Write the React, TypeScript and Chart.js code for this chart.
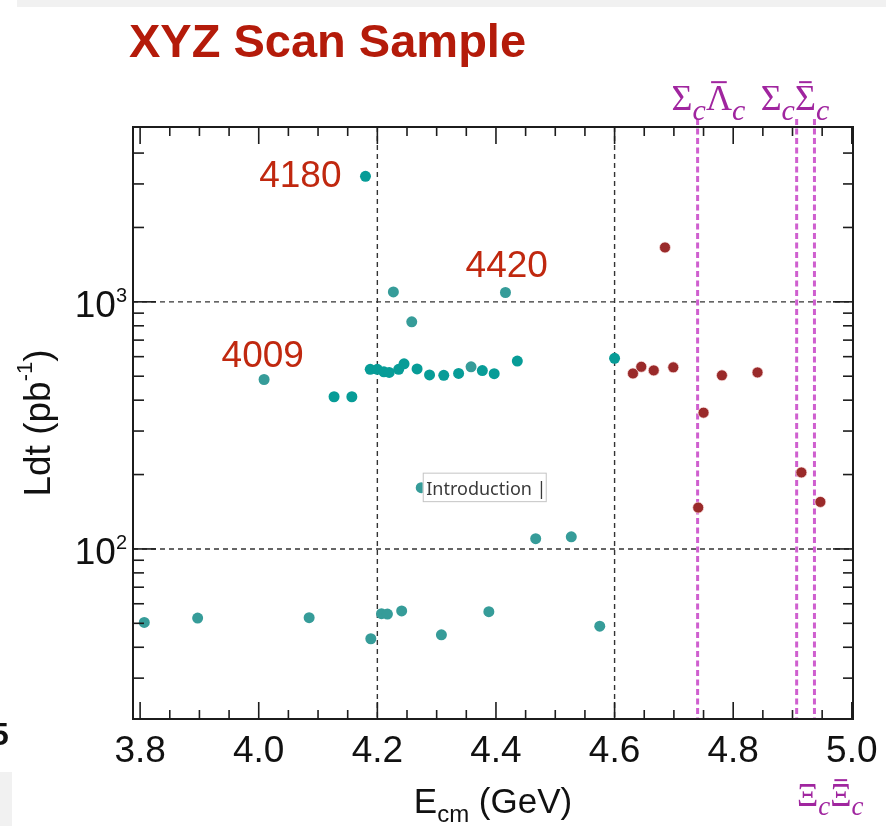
import React, { useEffect, useRef } from "react";
import { Chart, registerables } from "chart.js";

Chart.register(...registerables);

// ---------------- data ----------------
const xRange = [3.788, 5.002];
const yRange = [20.5, 5100];

const xTickLabels = [3.8, 4.0, 4.2, 4.4, 4.6, 4.8, 5.0];
const yTickLabels = [100, 1000];
const yMinorTicks = [30, 40, 50, 60, 70, 80, 90, 200, 300, 400, 500, 600, 700, 800, 900, 2000, 3000, 4000];
const xDashedGrid = [4.2, 4.6];
const yDashedGrid = [100, 1000];

// XYZ scan points (bright teal)
const tealEnergy = [4.18, 4.127, 4.157, 4.188, 4.2, 4.211, 4.22, 4.236, 4.245, 4.267, 4.288, 4.312, 4.337, 4.377, 4.397, 4.436, 4.6];
const tealLumi = [3220, 413, 413, 533, 533, 521, 518, 533, 561, 535, 506, 504, 513, 527, 512, 576, 591];

// XYZ scan points (muted teal)
const mutedEnergy = [4.009, 4.227, 4.258, 4.416, 4.358, 4.274, 4.467, 4.527, 3.807, 3.897, 4.085, 4.189, 4.207, 4.217, 4.241, 4.308, 4.388, 4.575];
const mutedLumi = [485, 1097, 830, 1091, 546, 177, 110, 112, 50.4, 52.5, 52.7, 43.3, 54.7, 54.5, 56.1, 44.9, 55.7, 48.7];

// high-energy points (dark red)
const redEnergy = [4.631, 4.645, 4.666, 4.685, 4.699, 4.741, 4.75, 4.781, 4.841, 4.915, 4.947];
const redLumi = [513, 546, 528, 1660, 543, 147, 356, 504, 518, 204, 155];

// annotated samples
const noteText = ["4180", "4420", "4009"];
const noteEnergy = [4.18, 4.416, 4.009];
const noteLumi = [3220, 1091, 485];

// thresholds
const thresholdEnergy = [4.74, 4.907, 4.937];

// text box
const boxText = "Introduction |";
const boxEnergy = 4.274;
const boxLumi = 177;

const titleText = "XYZ Scan Sample";

// ---------------- styles / layout ----------------
const SANS = '"Liberation Sans", Arial, Helvetica, sans-serif';
const SERIF = '"Liberation Serif", "DejaVu Serif", serif';
const TITLE_RED = "#b41b0a";
const NOTE_RED = "#c0280f";
const PURPLE = "#a0259f";
// note offsets: [dx, dy, align]
const noteLayout: [number, number, CanvasTextAlign][] = [
  [-24, 11, "right"],
  [1.3, -15.6, "center"],
  [-1.3, -12.6, "center"],
];
// threshold label layout: [dxFromLine, baseline, size, subSize, parts]
type Part = { t: string; sub?: boolean; bar?: boolean };
const thresholdLabels: { dx: number; base: number; size: number; sub: number; top: boolean; parts: Part[] }[] = [
  { dx: -26, base: 110, size: 36, sub: 30, top: true, parts: [{ t: "Σ" }, { t: "c", sub: true }, { t: "Λ", bar: true }, { t: "c", sub: true }] },
  { dx: -36, base: 110, size: 36, sub: 30, top: true, parts: [{ t: "Σ" }, { t: "c", sub: true }, { t: "Σ", bar: true }, { t: "c", sub: true }] },
  { dx: -17.5, base: 806, size: 33, sub: 27, top: false, parts: [{ t: "Ξ" }, { t: "c", sub: true }, { t: "Ξ", bar: true }, { t: "c", sub: true }] },
];

function line(ctx: CanvasRenderingContext2D, x1: number, y1: number, x2: number, y2: number) {
  ctx.beginPath();
  ctx.moveTo(x1, y1);
  ctx.lineTo(x2, y2);
  ctx.stroke();
}

const decorPlugin = {
  id: "decor",
  beforeDatasetsDraw(chart: any) {
    const { ctx, chartArea: a, scales } = chart;
    const x = scales.x, y = scales.y;
    ctx.save();
    // page artefacts
    ctx.fillStyle = "#f1f1f1";
    ctx.fillRect(17, 0, 869, 7);
    ctx.fillRect(0, 772, 12, 54);
    ctx.fillStyle = "#111";
    ctx.font = `bold 32px ${SANS}`;
    ctx.textAlign = "left";
    ctx.textBaseline = "alphabetic";
    ctx.fillText("5", -9, 745);

    // black dashed grid
    ctx.strokeStyle = "#333";
    ctx.lineWidth = 1.4;
    ctx.setLineDash([5, 4]);
    for (const v of xDashedGrid) {
      const px = x.getPixelForValue(v);
      line(ctx, px, a.top, px, a.bottom);
    }
    for (const v of yDashedGrid) {
      const py = y.getPixelForValue(v);
      line(ctx, a.left, py, a.right, py);
    }
    // thresholds
    ctx.strokeStyle = "#cf5fcf";
    ctx.lineWidth = 3;
    ctx.setLineDash([6, 3.5]);
    for (const v of thresholdEnergy) {
      const px = x.getPixelForValue(v);
      line(ctx, px, a.top - 8, px, a.bottom);
    }
    ctx.restore();
  },
  afterDatasetsDraw(chart: any) {
    const { ctx, chartArea: a, scales } = chart;
    const x = scales.x, y = scales.y;
    ctx.save();
    ctx.setLineDash([]);

    // frame
    ctx.strokeStyle = "#1c1c1c";
    ctx.lineWidth = 2;
    ctx.strokeRect(a.left, a.top, a.right - a.left, a.bottom - a.top);

    // x ticks
    ctx.lineWidth = 1.6;
    for (let k = 76; k <= 100; k++) {
      const v = k * 0.05;
      const px = x.getPixelForValue(v);
      const major = k % 4 === 0;
      const len = major ? 17 : 9;
      line(ctx, px, a.bottom, px, a.bottom - len);
      line(ctx, px, a.top, px, a.top + len);
    }
    // y ticks
    for (const v of yMinorTicks) {
      const py = y.getPixelForValue(v);
      line(ctx, a.left, py, a.left + 11, py);
      line(ctx, a.right, py, a.right - 10, py);
    }
    for (const v of yTickLabels) {
      const py = y.getPixelForValue(v);
      line(ctx, a.left, py, a.left + 23, py);
      line(ctx, a.right, py, a.right - 20, py);
    }

    // x tick labels
    ctx.fillStyle = "#111";
    ctx.font = `37px ${SANS}`;
    ctx.textAlign = "center";
    ctx.textBaseline = "alphabetic";
    for (const v of xTickLabels) {
      ctx.fillText(v.toFixed(1), x.getPixelForValue(v), 761.5);
    }
    // y tick labels 10^n
    for (const v of yTickLabels) {
      const py = y.getPixelForValue(v);
      const exp = String(Math.round(Math.log10(v)));
      ctx.textAlign = "right";
      ctx.font = `20px ${SANS}`;
      const sw = ctx.measureText(exp).width;
      ctx.fillText(exp, 127, py);
      ctx.font = `37px ${SANS}`;
      ctx.fillText("10", 127 - sw, py + 15);
    }

    // x title  E_cm (GeV)
    {
      ctx.textAlign = "left";
      const main = `35px ${SANS}`, sub = `24px ${SANS}`;
      ctx.font = main;
      const w1 = ctx.measureText("E").width;
      const w3 = ctx.measureText(" (GeV)").width;
      ctx.font = sub;
      const w2 = ctx.measureText("cm").width;
      const total = w1 + w2 + w3;
      let cx = (a.left + a.right) / 2 - total / 2;
      ctx.font = main;
      ctx.fillText("E", cx, 813);
      cx += w1;
      ctx.font = sub;
      ctx.fillText("cm", cx, 822);
      cx += w2;
      ctx.font = main;
      ctx.fillText(" (GeV)", cx, 813);
    }
    // y title  Ldt (pb^-1)
    {
      ctx.save();
      ctx.translate(50, (a.top + a.bottom) / 2);
      ctx.rotate(-Math.PI / 2);
      ctx.textAlign = "left";
      const main = `37px ${SANS}`, sup = `22px ${SANS}`;
      ctx.font = main;
      const w1 = ctx.measureText("Ldt (pb").width;
      const w3 = ctx.measureText(")").width;
      ctx.font = sup;
      const w2 = ctx.measureText("-1").width;
      let cx = -(w1 + w2 + w3) / 2;
      ctx.font = main;
      ctx.fillText("Ldt (pb", cx, 0);
      cx += w1;
      ctx.font = sup;
      ctx.fillText("-1", cx, -18);
      cx += w2;
      ctx.font = main;
      ctx.fillText(")", cx, 0);
      ctx.restore();
    }

    // title
    ctx.fillStyle = TITLE_RED;
    ctx.font = `bold 47px ${SANS}`;
    ctx.textAlign = "left";
    ctx.fillText(titleText, 129, 56.7);

    // notes
    ctx.fillStyle = NOTE_RED;
    ctx.font = `37px ${SANS}`;
    noteText.forEach((t, i) => {
      const [dx, dy, al] = noteLayout[i];
      ctx.textAlign = al;
      ctx.fillText(t, x.getPixelForValue(noteEnergy[i]) + dx, y.getPixelForValue(noteLumi[i]) + dy);
    });

    // threshold labels
    ctx.fillStyle = PURPLE;
    ctx.textAlign = "left";
    thresholdLabels.forEach((lab, i) => {
      let cx = x.getPixelForValue(thresholdEnergy[i]) + lab.dx;
      for (const p of lab.parts) {
        const size = p.sub ? lab.sub : lab.size;
        ctx.font = `${p.sub ? "italic " : ""}${size}px ${SERIF}`;
        const base = p.sub ? lab.base + size * 0.33 : lab.base;
        ctx.fillText(p.t, cx, base);
        const w = ctx.measureText(p.t).width;
        if (p.bar) {
          const capTop = base - size * 0.662;
          ctx.fillRect(cx + w * 0.2, capTop - 5, w * 0.6, 2);
        }
        cx += w;
      }
    });

    // text box
    {
      const bx = x.getPixelForValue(boxEnergy) + 1.5;
      const by = y.getPixelForValue(boxLumi) - 15;
      ctx.fillStyle = "#ffffff";
      ctx.fillRect(bx, by, 123, 28.5);
      ctx.strokeStyle = "#c4c4c4";
      ctx.lineWidth = 1;
      ctx.strokeRect(bx + 0.5, by + 0.5, 123, 28.5);
      ctx.fillStyle = "#3a3a3a";
      ctx.font = `18px "Noto Sans", "Open Sans", sans-serif`;
      ctx.textAlign = "left";
      ctx.fillText(boxText, bx + 3.5, by + 22.5);
    }
    ctx.restore();
  },
};

export default function App() {
  const ref = useRef<HTMLCanvasElement>(null);
  useEffect(() => {
    const pts = (e: number[], l: number[]) => e.map((v, i) => ({ x: v, y: l[i] }));
    const chart = new Chart(ref.current as HTMLCanvasElement, {
      type: "scatter",
      data: {
        datasets: [
          { label: "XYZ scan", data: pts(tealEnergy, tealLumi), backgroundColor: "#079c97", borderWidth: 0, pointRadius: 5.5 },
          { label: "XYZ scan (low)", data: pts(mutedEnergy, mutedLumi), backgroundColor: "#369c99", borderWidth: 0, pointRadius: 5.5 },
          { label: "High energy", data: pts(redEnergy, redLumi), backgroundColor: "#9a2a2a", borderColor: "rgba(255,235,235,0.7)", borderWidth: 1, pointRadius: 5.5 },
        ],
      },
      options: {
        responsive: false,
        animation: false,
        events: [],
        layout: { padding: { left: 133, right: 33, top: 127, bottom: 107 } },
        scales: {
          x: { type: "linear", min: xRange[0], max: xRange[1], display: false },
          y: { type: "logarithmic", min: yRange[0], max: yRange[1], display: false },
        },
        plugins: { legend: { display: false }, tooltip: { enabled: false }, title: { display: false } },
      },
      plugins: [decorPlugin],
    } as any);
    return () => chart.destroy();
  }, []);
  return (
    <div style={{ position: "fixed", left: 0, top: 0, width: 886, height: 826, background: "#fff" }}>
      <canvas ref={ref} width={886} height={826} style={{ display: "block" }} />
    </div>
  );
}
